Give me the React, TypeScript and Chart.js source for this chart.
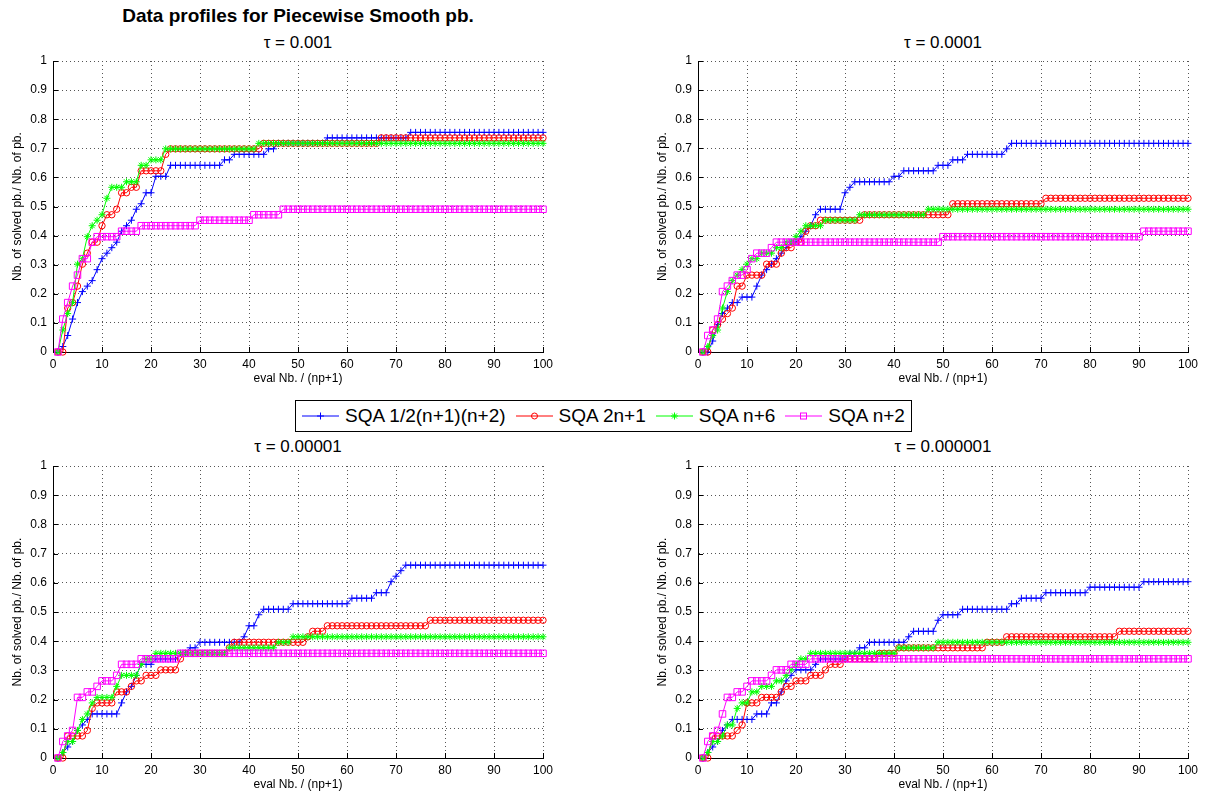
import React, { useEffect, useRef } from 'react';
import { Chart, registerables } from 'chart.js';

Chart.register(...registerables);

const FONT = '"Liberation Sans", Arial, Helvetica, sans-serif';

// Number of test problems: curves give (solved problems) / N_PROBLEMS
const N_PROBLEMS = 53;

// Budget in simplex gradients: eval Nb. / (np+1)
const EVAL_BUDGET = [
  1, 2, 3, 4, 5, 6, 7, 8, 9, 10,
  11, 12, 13, 14, 15, 16, 17, 18, 19, 20,
  21, 22, 23, 24, 25, 26, 27, 28, 29, 30,
  31, 32, 33, 34, 35, 36, 37, 38, 39, 40,
  41, 42, 43, 44, 45, 46, 47, 48, 49, 50,
  51, 52, 53, 54, 55, 56, 57, 58, 59, 60,
  61, 62, 63, 64, 65, 66, 67, 68, 69, 70,
  71, 72, 73, 74, 75, 76, 77, 78, 79, 80,
  81, 82, 83, 84, 85, 86, 87, 88, 89, 90,
  91, 92, 93, 94, 95, 96, 97, 98, 99, 100,
];

const SOLVER_LABELS = ['SQA 1/2(n+1)(n+2)', 'SQA 2n+1', 'SQA n+6', 'SQA n+2'];
const PANEL_TITLES = ['τ = 0.001', 'τ = 0.0001', 'τ = 0.00001', 'τ = 0.000001'];
const X_TITLE = 'eval Nb. / (np+1)';
const Y_TITLE = 'Nb. of solved pb./ Nb. of pb.';
const MAIN_TITLE = 'Data profiles for Piecewise Smooth pb.';

// ---- tau = 0.001 (solved problem counts) ----
const tau1_quad = [
  0, 1, 3, 6, 9, 11, 12, 13, 15, 17,
  18, 19, 20, 22, 23, 24, 26, 27, 29, 29,
  32, 32, 32, 34, 34, 34, 34, 34, 34, 34,
  34, 34, 34, 34, 35, 35, 36, 36, 36, 36,
  36, 36, 36, 37, 37, 38, 38, 38, 38, 38,
  38, 38, 38, 38, 38, 39, 39, 39, 39, 39,
  39, 39, 39, 39, 39, 39, 39, 39, 39, 39,
  39, 39, 40, 40, 40, 40, 40, 40, 40, 40,
  40, 40, 40, 40, 40, 40, 40, 40, 40, 40,
  40, 40, 40, 40, 40, 40, 40, 40, 40, 40,
];
const tau1_2n1 = [
  0, 0, 8, 9, 12, 16, 18, 20, 20, 23,
  25, 25, 26, 29, 29, 30, 30, 33, 33, 33,
  33, 33, 36, 37, 37, 37, 37, 37, 37, 37,
  37, 37, 37, 37, 37, 37, 37, 37, 37, 37,
  37, 37, 38, 38, 38, 38, 38, 38, 38, 38,
  38, 38, 38, 38, 38, 38, 38, 38, 38, 38,
  38, 38, 38, 38, 38, 38, 39, 39, 39, 39,
  39, 39, 39, 39, 39, 39, 39, 39, 39, 39,
  39, 39, 39, 39, 39, 39, 39, 39, 39, 39,
  39, 39, 39, 39, 39, 39, 39, 39, 39, 39,
];
const tau1_n6 = [
  0, 4, 7, 9, 16, 17, 21, 23, 24, 25,
  28, 30, 30, 30, 31, 31, 31, 34, 34, 35,
  35, 35, 37, 37, 37, 37, 37, 37, 37, 37,
  37, 37, 37, 37, 37, 37, 37, 37, 37, 37,
  37, 38, 38, 38, 38, 38, 38, 38, 38, 38,
  38, 38, 38, 38, 38, 38, 38, 38, 38, 38,
  38, 38, 38, 38, 38, 38, 38, 38, 38, 38,
  38, 38, 38, 38, 38, 38, 38, 38, 38, 38,
  38, 38, 38, 38, 38, 38, 38, 38, 38, 38,
  38, 38, 38, 38, 38, 38, 38, 38, 38, 38,
];
const tau1_n2 = [
  0, 6, 9, 12, 14, 17, 17, 20, 21, 21,
  21, 21, 21, 22, 22, 22, 22, 23, 23, 23,
  23, 23, 23, 23, 23, 23, 23, 23, 23, 24,
  24, 24, 24, 24, 24, 24, 24, 24, 24, 24,
  25, 25, 25, 25, 25, 25, 26, 26, 26, 26,
  26, 26, 26, 26, 26, 26, 26, 26, 26, 26,
  26, 26, 26, 26, 26, 26, 26, 26, 26, 26,
  26, 26, 26, 26, 26, 26, 26, 26, 26, 26,
  26, 26, 26, 26, 26, 26, 26, 26, 26, 26,
  26, 26, 26, 26, 26, 26, 26, 26, 26, 26,
];

// ---- tau = 0.0001 ----
const tau2_quad = [
  0, 0, 2, 5, 7, 8, 9, 9, 10, 10,
  10, 12, 14, 15, 16, 17, 18, 19, 20, 20,
  21, 22, 23, 25, 26, 26, 26, 26, 26, 29,
  30, 31, 31, 31, 31, 31, 31, 31, 31, 32,
  32, 33, 33, 33, 33, 33, 33, 33, 34, 34,
  34, 35, 35, 35, 36, 36, 36, 36, 36, 36,
  36, 36, 37, 38, 38, 38, 38, 38, 38, 38,
  38, 38, 38, 38, 38, 38, 38, 38, 38, 38,
  38, 38, 38, 38, 38, 38, 38, 38, 38, 38,
  38, 38, 38, 38, 38, 38, 38, 38, 38, 38,
];
const tau2_2n1 = [
  0, 0, 4, 5, 6, 7, 8, 12, 12, 14,
  14, 14, 14, 16, 16, 16, 18, 19, 19, 20,
  20, 22, 23, 23, 24, 24, 24, 24, 24, 24,
  24, 24, 24, 25, 25, 25, 25, 25, 25, 25,
  25, 25, 25, 25, 25, 25, 25, 25, 25, 25,
  25, 27, 27, 27, 27, 27, 27, 27, 27, 27,
  27, 27, 27, 27, 27, 27, 27, 27, 27, 27,
  28, 28, 28, 28, 28, 28, 28, 28, 28, 28,
  28, 28, 28, 28, 28, 28, 28, 28, 28, 28,
  28, 28, 28, 28, 28, 28, 28, 28, 28, 28,
];
const tau2_n6 = [
  0, 1, 3, 4, 8, 11, 13, 14, 15, 16,
  17, 17, 18, 18, 18, 19, 19, 20, 20, 21,
  22, 23, 23, 23, 23, 24, 24, 24, 24, 24,
  24, 24, 25, 25, 25, 25, 25, 25, 25, 25,
  25, 25, 25, 25, 25, 25, 26, 26, 26, 26,
  26, 26, 26, 26, 26, 26, 26, 26, 26, 26,
  26, 26, 26, 26, 26, 26, 26, 26, 26, 26,
  26, 26, 26, 26, 26, 26, 26, 26, 26, 26,
  26, 26, 26, 26, 26, 26, 26, 26, 26, 26,
  26, 26, 26, 26, 26, 26, 26, 26, 26, 26,
];
const tau2_n2 = [
  0, 3, 4, 6, 11, 12, 13, 14, 14, 15,
  17, 18, 18, 18, 19, 20, 20, 20, 20, 20,
  20, 20, 20, 20, 20, 20, 20, 20, 20, 20,
  20, 20, 20, 20, 20, 20, 20, 20, 20, 20,
  20, 20, 20, 20, 20, 20, 20, 20, 20, 21,
  21, 21, 21, 21, 21, 21, 21, 21, 21, 21,
  21, 21, 21, 21, 21, 21, 21, 21, 21, 21,
  21, 21, 21, 21, 21, 21, 21, 21, 21, 21,
  21, 21, 21, 21, 21, 21, 21, 21, 21, 21,
  22, 22, 22, 22, 22, 22, 22, 22, 22, 22,
];

// ---- tau = 0.00001 ----
const tau3_quad = [
  0, 1, 2, 3, 5, 6, 7, 8, 8, 8,
  8, 8, 8, 10, 12, 13, 15, 17, 17, 17,
  18, 18, 18, 18, 18, 19, 19, 20, 20, 21,
  21, 21, 21, 21, 21, 21, 21, 21, 22, 24,
  24, 26, 27, 27, 27, 27, 27, 27, 28, 28,
  28, 28, 28, 28, 28, 28, 28, 28, 28, 28,
  29, 29, 29, 29, 29, 30, 30, 30, 32, 33,
  34, 35, 35, 35, 35, 35, 35, 35, 35, 35,
  35, 35, 35, 35, 35, 35, 35, 35, 35, 35,
  35, 35, 35, 35, 35, 35, 35, 35, 35, 35,
];
const tau3_2n1 = [
  0, 0, 4, 4, 4, 4, 5, 9, 10, 10,
  10, 10, 12, 12, 12, 13, 14, 14, 15, 15,
  15, 16, 16, 16, 16, 18, 19, 19, 19, 19,
  19, 19, 19, 19, 19, 20, 21, 21, 21, 21,
  21, 21, 21, 21, 21, 21, 21, 21, 21, 21,
  21, 22, 23, 23, 23, 24, 24, 24, 24, 24,
  24, 24, 24, 24, 24, 24, 24, 24, 24, 24,
  24, 24, 24, 24, 24, 24, 25, 25, 25, 25,
  25, 25, 25, 25, 25, 25, 25, 25, 25, 25,
  25, 25, 25, 25, 25, 25, 25, 25, 25, 25,
];
const tau3_n6 = [
  0, 1, 3, 3, 5, 7, 8, 10, 11, 11,
  11, 11, 13, 15, 15, 15, 15, 17, 18, 18,
  19, 19, 19, 19, 19, 19, 19, 19, 19, 19,
  19, 19, 19, 19, 19, 20, 20, 20, 20, 20,
  20, 20, 20, 20, 20, 21, 21, 21, 22, 22,
  22, 22, 22, 22, 22, 22, 22, 22, 22, 22,
  22, 22, 22, 22, 22, 22, 22, 22, 22, 22,
  22, 22, 22, 22, 22, 22, 22, 22, 22, 22,
  22, 22, 22, 22, 22, 22, 22, 22, 22, 22,
  22, 22, 22, 22, 22, 22, 22, 22, 22, 22,
];
const tau3_n2 = [
  0, 3, 4, 5, 11, 11, 12, 12, 13, 14,
  14, 14, 15, 17, 17, 17, 17, 18, 18, 18,
  18, 18, 18, 18, 18, 19, 19, 19, 19, 19,
  19, 19, 19, 19, 19, 19, 19, 19, 19, 19,
  19, 19, 19, 19, 19, 19, 19, 19, 19, 19,
  19, 19, 19, 19, 19, 19, 19, 19, 19, 19,
  19, 19, 19, 19, 19, 19, 19, 19, 19, 19,
  19, 19, 19, 19, 19, 19, 19, 19, 19, 19,
  19, 19, 19, 19, 19, 19, 19, 19, 19, 19,
  19, 19, 19, 19, 19, 19, 19, 19, 19, 19,
];

// ---- tau = 0.000001 ----
const tau4_quad = [
  0, 1, 2, 3, 5, 6, 7, 7, 7, 7,
  7, 8, 8, 8, 10, 10, 12, 14, 15, 16,
  16, 16, 16, 17, 18, 18, 18, 18, 18, 18,
  19, 19, 20, 20, 21, 21, 21, 21, 21, 21,
  21, 21, 22, 23, 23, 23, 23, 23, 25, 26,
  26, 26, 26, 27, 27, 27, 27, 27, 27, 27,
  27, 27, 27, 28, 28, 29, 29, 29, 29, 29,
  30, 30, 30, 30, 30, 30, 30, 30, 30, 31,
  31, 31, 31, 31, 31, 31, 31, 31, 31, 31,
  32, 32, 32, 32, 32, 32, 32, 32, 32, 32,
];
const tau4_2n1 = [
  0, 0, 4, 4, 4, 4, 4, 5, 6, 10,
  10, 10, 11, 11, 11, 11, 12, 13, 13, 14,
  14, 14, 15, 15, 15, 16, 17, 17, 17, 18,
  18, 18, 18, 18, 18, 18, 19, 19, 19, 19,
  20, 20, 20, 20, 20, 20, 20, 20, 20, 20,
  20, 20, 20, 20, 20, 20, 20, 20, 21, 21,
  21, 21, 22, 22, 22, 22, 22, 22, 22, 22,
  22, 22, 22, 22, 22, 22, 22, 22, 22, 22,
  22, 22, 22, 22, 22, 23, 23, 23, 23, 23,
  23, 23, 23, 23, 23, 23, 23, 23, 23, 23,
];
const tau4_n6 = [
  0, 1, 3, 3, 4, 6, 6, 9, 10, 10,
  12, 12, 13, 13, 13, 14, 14, 15, 16, 17,
  18, 18, 19, 19, 19, 19, 19, 19, 19, 19,
  19, 19, 19, 19, 19, 19, 19, 19, 19, 19,
  20, 20, 20, 20, 20, 20, 20, 20, 21, 21,
  21, 21, 21, 21, 21, 21, 21, 21, 21, 21,
  21, 21, 21, 21, 21, 21, 21, 21, 21, 21,
  21, 21, 21, 21, 21, 21, 21, 21, 21, 21,
  21, 21, 21, 21, 21, 21, 21, 21, 21, 21,
  21, 21, 21, 21, 21, 21, 21, 21, 21, 21,
];
const tau4_n2 = [
  0, 3, 4, 5, 8, 11, 11, 12, 12, 13,
  14, 14, 14, 14, 15, 16, 16, 16, 17, 17,
  17, 17, 18, 18, 18, 18, 18, 18, 18, 18,
  18, 18, 18, 18, 18, 18, 18, 18, 18, 18,
  18, 18, 18, 18, 18, 18, 18, 18, 18, 18,
  18, 18, 18, 18, 18, 18, 18, 18, 18, 18,
  18, 18, 18, 18, 18, 18, 18, 18, 18, 18,
  18, 18, 18, 18, 18, 18, 18, 18, 18, 18,
  18, 18, 18, 18, 18, 18, 18, 18, 18, 18,
  18, 18, 18, 18, 18, 18, 18, 18, 18, 18,
];

const PANEL_DATA = [
  [tau1_quad, tau1_2n1, tau1_n6, tau1_n2],
  [tau2_quad, tau2_2n1, tau2_n6, tau2_n2],
  [tau3_quad, tau3_2n1, tau3_n6, tau3_n2],
  [tau4_quad, tau4_2n1, tau4_n6, tau4_n2],
];

// Styles (MATLAB-like)
const SERIES_STYLE = [
  { color: '#0000ff', pointStyle: 'cross', radius: 3.5, order: 3 },
  { color: '#ff0000', pointStyle: 'circle', radius: 3.2, order: 2 },
  { color: '#00ff00', pointStyle: 'star', radius: 3.5, order: 1 },
  { color: '#ff00ff', pointStyle: 'rect', radius: 4.6, order: 0 },
];

const AREA_LEFT = 53;
const AREA_W = 490;
const X_AXIS_H = 38;
const AREA_TOP_PAD = 31;

const inwardTicks = {
  id: 'inwardTicks',
  beforeDatasetsDraw(chart: any) {
    const { ctx, chartArea: a, scales } = chart;
    const xs = scales.x;
    const ys = scales.y;
    ctx.save();
    ctx.strokeStyle = '#000';
    ctx.lineWidth = 1;
    ctx.beginPath();
    xs.ticks.forEach((t: any) => {
      const px = Math.round(xs.getPixelForValue(t.value)) + 0.5;
      ctx.moveTo(px, a.bottom);
      ctx.lineTo(px, a.bottom - 5);
    });
    ys.ticks.forEach((t: any) => {
      const py = Math.round(ys.getPixelForValue(t.value)) + 0.5;
      ctx.moveTo(a.left, py);
      ctx.lineTo(a.left + 5, py);
    });
    ctx.stroke();
    ctx.restore();
  },
};

function Panel(props: {
  left: number; top: number; width: number; areaH: number; series: number[][];
}) {
  const { left, top, width, areaH, series } = props;
  const height = AREA_TOP_PAD + areaH + X_AXIS_H;
  const ref = useRef<HTMLCanvasElement>(null);

  useEffect(() => {
    const canvas = ref.current;
    if (!canvas) return;
    const datasets = series.map((counts, si) => {
      const st = SERIES_STYLE[si];
      return {
        label: SOLVER_LABELS[si],
        data: EVAL_BUDGET.map((x, i) => ({ x, y: counts[i] / N_PROBLEMS })),
        borderColor: st.color,
        backgroundColor: st.color,
        borderWidth: 1,
        pointStyle: st.pointStyle,
        pointRadius: st.radius,
        pointHoverRadius: st.radius,
        pointBorderColor: st.color,
        pointBackgroundColor: 'rgba(0,0,0,0)',
        pointBorderWidth: 1,
        tension: 0,
        fill: false,
        clip: false as any,
        order: st.order,
      };
    });
    const tickFont = { family: FONT, size: 12 };
    const chart = new Chart(canvas, {
      type: 'line',
      data: { datasets: datasets as any },
      options: {
        animation: false,
        responsive: false,
        maintainAspectRatio: false,
        devicePixelRatio: 1,
        events: [],
        layout: {
          padding: { left: 0, top: AREA_TOP_PAD, right: width - AREA_LEFT - AREA_W, bottom: 0 },
        },
        plugins: {
          legend: { display: false },
          tooltip: { enabled: false },
          title: { display: false },
        },
        scales: {
          x: {
            type: 'linear',
            min: 0,
            max: 100,
            ticks: {
              stepSize: 10,
              color: '#000',
              font: tickFont,
              padding: 5,
              maxRotation: 0,
              autoSkip: false,
            },
            grid: { color: '#555', lineWidth: 1, drawTicks: false },
            border: { display: true, color: '#000', width: 1, dash: [1, 3] },
            title: {
              display: true,
              text: X_TITLE,
              color: '#000',
              font: { family: FONT, size: 12 },
              padding: { top: 0, bottom: 4.3 },
            },
            afterFit: (s: any) => { s.height = X_AXIS_H; },
          },
          y: {
            type: 'linear',
            min: 0,
            max: 1,
            ticks: {
              stepSize: 0.1,
              color: '#000',
              font: tickFont,
              padding: 6,
              callback: (v: any) => String(Math.round(Number(v) * 10) / 10),
            },
            grid: { color: '#555', lineWidth: 1, drawTicks: false },
            border: { display: true, color: '#000', width: 1, dash: [1, 3] },
            title: {
              display: true,
              text: Y_TITLE,
              color: '#000',
              font: { family: FONT, size: 12 },
              padding: { top: 10.5, bottom: 0 },
            },
            afterFit: (s: any) => { s.width = AREA_LEFT; },
          },
        },
      },
      plugins: [inwardTicks],
    } as any);
    return () => chart.destroy();
  }, []);

  return (
    <canvas
      ref={ref}
      width={width}
      height={height}
      style={{ position: 'absolute', left, top, width, height }}
    />
  );
}

function LegendSample({ kind, color }: { kind: string; color: string }) {
  const cx = 18.5;
  const cy = 15;
  let marker: React.ReactNode = null;
  if (kind === 'cross') {
    marker = (
      <path d={`M${cx - 3.5} ${cy}H${cx + 3.5}M${cx} ${cy - 3.5}V${cy + 3.5}`} stroke={color} strokeWidth={1} />
    );
  } else if (kind === 'circle') {
    marker = <circle cx={cx} cy={cy} r={3} fill="none" stroke={color} strokeWidth={1} />;
  } else if (kind === 'star') {
    marker = (
      <path
        d={`M${cx - 3.5} ${cy}H${cx + 3.5}M${cx} ${cy - 3.5}V${cy + 3.5}M${cx - 2.5} ${cy - 2.5}L${cx + 2.5} ${cy + 2.5}M${cx - 2.5} ${cy + 2.5}L${cx + 2.5} ${cy - 2.5}`}
        stroke={color}
        strokeWidth={1}
      />
    );
  } else {
    marker = <rect x={cx - 3} y={cy - 3} width={6} height={6} fill="none" stroke={color} strokeWidth={1} />;
  }
  return (
    <svg width={37} height={30} style={{ display: 'block', flex: 'none' }}>
      <line x1={0} y1={cy} x2={37} y2={cy} stroke={color} strokeWidth={1} />
      {marker}
    </svg>
  );
}

export default function App() {
  const topRowTop = 30;
  const bottomRowTop = 435;
  const leftCol = 0;
  const rightCol = 645;
  const leftW = 565;
  const rightW = 562;

  const titleStyle: React.CSSProperties = {
    position: 'absolute',
    textAlign: 'center',
    fontFamily: FONT,
    fontSize: 17,
    lineHeight: '20px',
    color: '#000',
    whiteSpace: 'nowrap',
  };

  return (
    <div
      style={{
        position: 'fixed',
        left: 0,
        top: 0,
        width: 1207,
        height: 794,
        background: '#fff',
        overflow: 'hidden',
        fontFamily: FONT,
      }}
    >
      <div
        style={{
          position: 'absolute',
          left: 0,
          top: 4,
          width: 596,
          textAlign: 'center',
          fontFamily: FONT,
          fontWeight: 'bold',
          fontSize: 19,
          lineHeight: '24px',
          color: '#000',
          whiteSpace: 'nowrap',
        }}
      >
        {MAIN_TITLE}
      </div>

      <div style={{ ...titleStyle, left: leftCol + AREA_LEFT, width: AREA_W, top: 33 }}>{PANEL_TITLES[0]}</div>
      <div style={{ ...titleStyle, left: rightCol + AREA_LEFT, width: AREA_W, top: 33 }}>{PANEL_TITLES[1]}</div>
      <div style={{ ...titleStyle, left: leftCol + AREA_LEFT, width: AREA_W, top: 437 }}>{PANEL_TITLES[2]}</div>
      <div style={{ ...titleStyle, left: rightCol + AREA_LEFT, width: AREA_W, top: 437 }}>{PANEL_TITLES[3]}</div>

      <Panel left={leftCol} top={topRowTop} width={leftW} areaH={291} series={PANEL_DATA[0]} />
      <Panel left={rightCol} top={topRowTop} width={rightW} areaH={291} series={PANEL_DATA[1]} />
      <Panel left={leftCol} top={bottomRowTop} width={leftW} areaH={292} series={PANEL_DATA[2]} />
      <Panel left={rightCol} top={bottomRowTop} width={rightW} areaH={292} series={PANEL_DATA[3]} />

      <div
        style={{
          position: 'absolute',
          left: 295,
          top: 400,
          height: 30,
          border: '1px solid #000',
          background: '#fff',
          display: 'flex',
          alignItems: 'center',
          padding: '0 6px',
          fontFamily: FONT,
          fontSize: 19,
          color: '#000',
          whiteSpace: 'nowrap',
        }}
      >
        {SOLVER_LABELS.map((lab, i) => (
          <div key={lab} style={{ display: 'flex', alignItems: 'center', marginRight: i < 3 ? 10 : 0 }}>
            <LegendSample kind={SERIES_STYLE[i].pointStyle} color={SERIES_STYLE[i].color} />
            <span style={{ marginLeft: 6, lineHeight: '30px' }}>{lab}</span>
          </div>
        ))}
      </div>
    </div>
  );
}
